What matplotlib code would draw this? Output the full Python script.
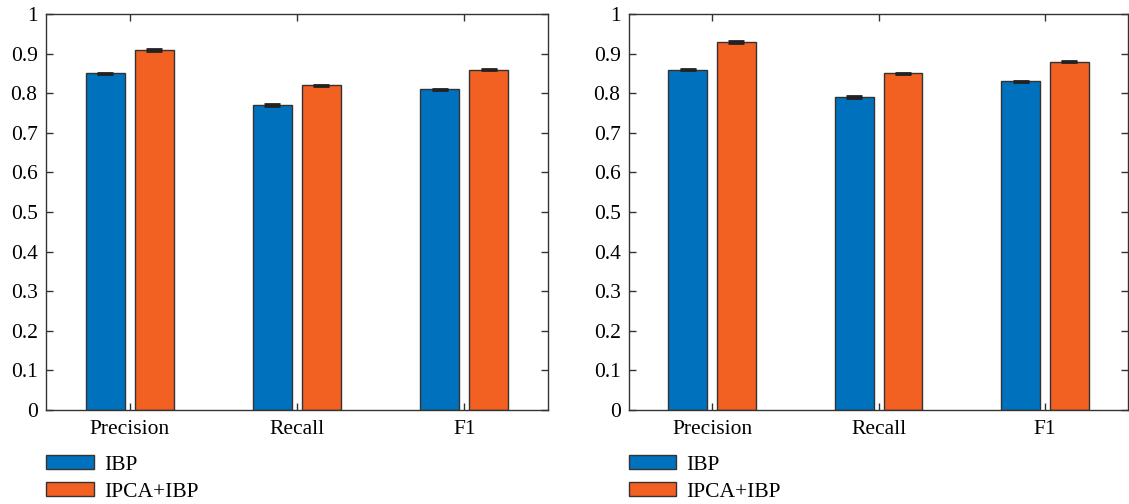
import numpy as np
import matplotlib.pyplot as plt
from matplotlib.patches import Patch

plt.rcParams['font.family'] = ['Liberation Serif', 'DejaVu Serif']

categorias = ['Precision', 'Recall', 'F1']
ibp_esq = [0.85, 0.77, 0.81]
ipca_esq = [0.91, 0.82, 0.86]
ibp_dir = [0.86, 0.79, 0.83]
ipca_dir = [0.93, 0.85, 0.88]
erro = [0.002, 0.002, 0.002]
series = ['IBP', 'IPCA+IBP']

AZUL = '#0072BD'
LARANJA = '#F26122'
BORDA = '#333333'
FONTE = 15.5


def plt_barras(ax, v1, v2):
    """Barras agrupadas no estilo MATLAB"""
    x = np.arange(1, len(categorias) + 1)
    w = 0.233
    off = 0.146
    for vals, dx, cor in [(v1, -off, AZUL), (v2, off, LARANJA)]:
        ax.bar(x + dx, vals, w, color=cor, edgecolor=BORDA, linewidth=1.0,
               yerr=erro, error_kw=dict(ecolor='#222222', elinewidth=1, capsize=6, capthick=2))
    ax.set_xlim(0.5, 3.5)
    ax.set_ylim(0, 1)
    ax.set_xticks(x)
    ax.set_xticklabels(categorias)
    ax.set_yticks(np.arange(0, 1.01, 0.1))
    ax.set_yticklabels(['0'] + [f'{v:.1f}' for v in np.arange(0.1, 0.95, 0.1)] + ['1'])
    ax.tick_params(direction='in', top=True, right=True, labelsize=FONTE, length=5,
                   color=BORDA, width=1)
    ax.tick_params(axis='x', pad=7)
    ax.tick_params(axis='y', pad=6)
    for s in ax.spines.values():
        s.set_color(BORDA)
        s.set_linewidth(1.0)


def main():
    fig = plt.figure(figsize=(11.29, 5.04), dpi=100)
    ax1 = fig.add_axes([0.0407, 0.1865, 0.4446, 0.7855])
    ax2 = fig.add_axes([0.557, 0.1865, 0.4425, 0.7855])
    plt_barras(ax1, ibp_esq, ipca_esq)
    plt_barras(ax2, ibp_dir, ipca_dir)

    handles = [Patch(facecolor=AZUL, edgecolor=BORDA), Patch(facecolor=LARANJA, edgecolor=BORDA)]
    for xpos in [0.041, 0.557]:
        fig.legend(handles, series, loc='upper left', bbox_to_anchor=(xpos, 0.097),
                   frameon=False, fontsize=FONTE, handlelength=2.2, handleheight=0.6,
                   labelspacing=0.36, handletextpad=0.47, borderpad=0, borderaxespad=0)
    fig.savefig('out.png', dpi=100)


if __name__ == '__main__':
    main()
